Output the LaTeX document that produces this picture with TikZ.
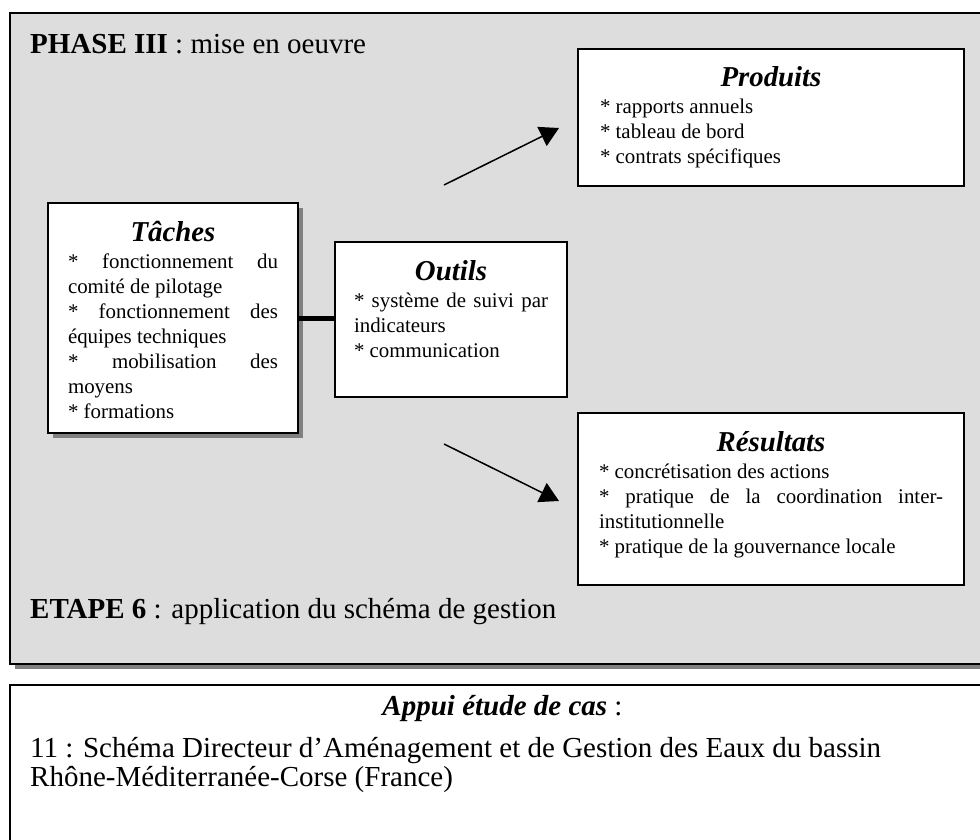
\documentclass[tikz,border=0pt]{standalone}
\usepackage{fontspec}
\setmainfont{Liberation Serif}
\usetikzlibrary{arrows.meta,shadows}

\definecolor{panelgray}{HTML}{DDDDDD}
\definecolor{shadegray}{HTML}{808080}

% type sizes
\newcommand{\bodysize}{\fontsize{20.9pt}{25pt}\selectfont}
\newcommand{\headsize}{\fontsize{28.8pt}{33pt}\selectfont}
\newcommand{\bigsize}{\fontsize{29pt}{33pt}\selectfont}
% centred bold-italic heading of a card, baseline 38pt below its top edge
\newcommand{\cardtitle}[1]{{\headsize\bfseries\itshape\centering\rule{0pt}{38pt}#1\par}\vspace{2pt}}

\tikzset{
  card/.style={draw, line width=1.6pt, fill=white, inner ysep=0pt,
               outer sep=0pt, anchor=north west, font=\bodysize},
  cardshadow/.style={drop shadow={shadow xshift=5pt, shadow yshift=-5pt,
               fill=shadegray, opacity=1}},
  panel/.style={draw, line width=1.8pt, inner sep=0pt, outer sep=0pt,
               anchor=north west},
  label/.style={inner sep=0pt, font=\bigsize},
  link/.style={line width=5pt},
  flow/.style={line width=1.5pt, -{Triangle[length=19pt,width=21pt]}},
}

\begin{document}
\begin{tikzpicture}[x=1pt, y=-1pt]
\useasboundingbox (0,0) rectangle (980,840);
\clip (0,0) rectangle (980,840);

% grey phase panel and the case-study panel below it
\node[panel, fill=panelgray, cardshadow, minimum width=985pt, minimum height=651pt]
  (phase) at (10,13) {};
\node[panel, fill=white, minimum width=985pt, minimum height=175pt]
  (appui) at (10,685) {};

% panel headings
\node[label, anchor=base west] (phasetitle) at (30,53.3)
  {\textbf{PHASE III} : mise en oeuvre};
\node[label, anchor=base west] (etape) at (30,618)
  {\textbf{ETAPE 6} : application du schéma de gestion};

% cards (one line per paragraph; justified lines are spread with \hfill)
\node[card, cardshadow, inner xsep=20pt] (taches) at (48,203)
  {\parbox[c][230pt][t]{210pt}{\cardtitle{Tâches}\raggedright
   * \hfill fonctionnement \hfill du\par
   comité de pilotage\par
   * \hfill fonctionnement \hfill des\par
   équipes techniques\par
   * \hfill mobilisation \hfill des\par
   moyens\par
   * formations}};

\node[card, inner xsep=19pt] (outils) at (335,242)
  {\parbox[c][155pt][t]{194pt}{\cardtitle{Outils}\raggedright
   * \hfill système \hfill de \hfill suivi \hfill par\par
   indicateurs\par
   * communication}};

\node[card, inner xsep=22pt] (produits) at (578,49)
  {\parbox[c][137pt][t]{342pt}{\cardtitle{Produits}\raggedright
   * rapports annuels\par
   * tableau de bord\par
   * contrats spécifiques}};

\node[card, inner xsep=21pt] (resultats) at (578,413)
  {\parbox[c][172pt][t]{344pt}{\cardtitle{Résultats}\raggedright
   * concrétisation des actions\par
   * \hfill pratique \hfill de \hfill la \hfill coordination \hfill inter-\par
   institutionnelle\par
   * pratique de la gouvernance locale}};

% connectors
\draw[link] (taches.east) -- (taches.east -| outils.west);

\coordinate (upfrom) at (444,185);
\coordinate (upto) at (559,128);
\coordinate (downfrom) at (444,444);
\coordinate (downto) at (559,501);
\draw[flow] (upfrom) -- (upto);
\draw[flow] (downfrom) -- (downto);

% case-study text
\node[label, anchor=base] (appuititle) at (502.5,715)
  {\textbf{\textit{Appui étude de cas}} :};
\node[label, anchor=base west] (caseline1) at (30,757)
  {11 : Schéma Directeur d’Aménagement et de Gestion des Eaux du bassin};
\node[label, anchor=base west] (caseline2) at (30,786)
  {Rhône-Méditerranée-Corse (France)};
\end{tikzpicture}
\end{document}
